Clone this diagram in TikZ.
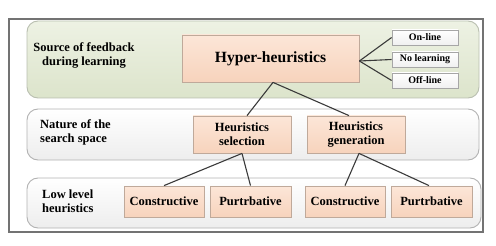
\documentclass[tikz,border=0pt]{standalone}
\usepackage{fontspec}
\setmainfont{Liberation Serif}
\usetikzlibrary{calc}
\definecolor{bandgreen}{HTML}{E6ECD8}
\definecolor{bandgreenb}{HTML}{DCE4CB}
\definecolor{bandline}{HTML}{B9BFB0}
\definecolor{peachtop}{HTML}{FCE6D8}
\definecolor{peachbot}{HTML}{F7D3BC}
\definecolor{peachline}{HTML}{BFA99A}
\definecolor{linkcol}{HTML}{3A3A3A}
\tikzset{
  band/.style={draw=bandline, line width=0.9pt, rounded corners=11pt},
  greenband/.style={band, top color=bandgreen!70!white, bottom color=bandgreenb},
  grayband/.style={band, draw=black!30, top color=white, bottom color=black!7},
  peachbox/.style={draw=peachline, line width=0.8pt, top color=peachtop, bottom color=peachbot,
    font=\bfseries\fontsize{12.5}{14}\selectfont, align=center, inner sep=0pt},
  tagbox/.style={draw=black!35, line width=0.8pt, top color=white, bottom color=black!6,
    font=\bfseries\fontsize{10}{11}\selectfont, minimum width=66pt, minimum height=15pt, inner sep=0pt},
  rowlabel/.style={font=\bfseries\fontsize{12.5}{14}\selectfont, inner sep=0pt},
  link/.style={draw=linkcol, line width=1.1pt},
}
\begin{document}
\begin{tikzpicture}[x=1pt,y=-1pt]
\useasboundingbox (0,0) rectangle (496,246);
% outer frame
\draw[draw=black!55, line width=1.3pt] (9,19) rectangle (483,232);
% the three layers
\path[greenband] (27,21) rectangle (479,98);
\path[grayband] (27,109) rectangle (479,160);
\path[grayband] (27,178) rectangle (481,228);
% layer captions
\node[rowlabel, align=center] (lab1) at (84,55) {Source of feedback\\during learning};
\node[rowlabel, align=left, anchor=west] (lab2) at (40,132) {Nature of the\\search space};
\node[rowlabel, align=left, anchor=west] (lab3) at (42,201) {Low level\\heuristics};
% top level
\node[peachbox, minimum width=177pt, minimum height=47pt, font=\bfseries\fontsize{15.6}{18}\selectfont] (hyper) at (270.5,58.5) {Hyper-heuristics};
\node[tagbox] (on) at (425,37.5) {On-line};
\node[tagbox] (nol) at (425,59.5) {No learning};
\node[tagbox] (off) at (425,80.5) {Off-line};
% middle level
\node[peachbox, minimum width=98pt, minimum height=37pt] (sel) at (242,134.5) {Heuristics\\selection};
\node[peachbox, minimum width=98pt, minimum height=37pt] (gen) at (356,134.5) {Heuristics\\generation};
% bottom level
\node[peachbox, minimum width=80pt, minimum height=31pt] (c1) at (164,201.5) {Constructive};
\node[peachbox, minimum width=81pt, minimum height=31pt] (p1) at (250.5,201.5) {Purtrbative};
\node[peachbox, minimum width=80pt, minimum height=31pt] (c2) at (345,201.5) {Constructive};
\node[peachbox, minimum width=81pt, minimum height=31pt] (p2) at (431.5,201.5) {Purtrbative};
% connectors
\coordinate (hfan) at ($(hyper.east)+(0,2.5)$);
\draw[link] (hfan) -- (on.west);
\draw[link] (hfan) -- (nol.west);
\draw[link] (hfan) -- (off.west);
\coordinate (hfoot) at ($(hyper.south)+(2.5,0)$);
\draw[link] (hfoot) -- ($(sel.north)+(5,0)$);
\draw[link] (hfoot) -- ($(gen.north)+(-7,0)$);
\draw[link] (sel.south) -- (c1.north);
\draw[link] (sel.south) -- (p1.north);
\coordinate (gfoot) at ($(gen.south)+(3,0)$);
\draw[link] (gfoot) -- (c2.north);
\draw[link] (gfoot) -- ($(p2.north)+(-2.5,0)$);
\end{tikzpicture}
\end{document}
